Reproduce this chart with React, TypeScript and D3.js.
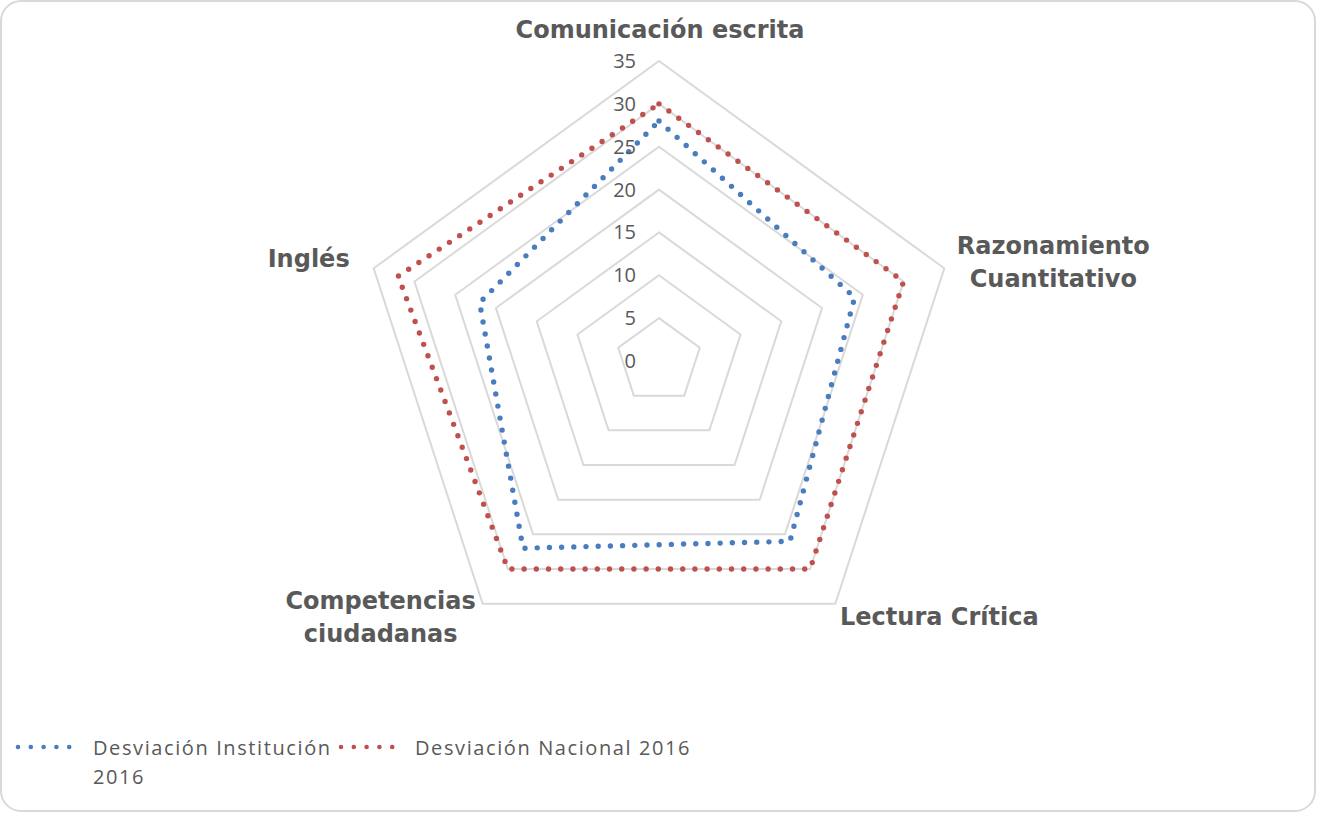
import React from "react";
import * as d3 from "d3";

const categories = [
  ["Comunicación escrita"],
  ["Razonamiento", "Cuantitativo"],
  ["Lectura Crítica"],
  ["Competencias", "ciudadanas"],
  ["Inglés"],
];
const institucion = [28, 24, 26, 27, 22];
const nacional = [30, 30, 30, 30, 32];
const ticks = [0, 5, 10, 15, 20, 25, 30, 35];
const seriesNames = ["Desviación Institución 2016", "Desviación Nacional 2016"];

const W = 1317;
const H = 813;
const cx = 659;
const cy = 361;
const R = 300;
const BLUE = "#4A7DBE";
const RED = "#C0504D";
const GRID = "#d9d9d9";
const TEXT = "#595959";

const r = d3.scaleLinear().domain([0, 35]).range([0, R]);
const angle = (i: number) => (i * 2 * Math.PI) / categories.length;

const radial = d3
  .lineRadial<number>()
  .angle((_, i) => angle(i))
  .radius((d) => r(d))
  .curve(d3.curveLinearClosed);

const vertex = (i: number, v: number) => [
  cx + r(v) * Math.sin(angle(i)),
  cy - r(v) * Math.cos(angle(i)),
];

// label placement relative to the outer vertex: [dx, dy of first baseline, anchor]
const labelPlace: [number, number, string][] = [
  [1, -23, "middle"],
  [109, -14, "middle"],
  [104, 21, "middle"],
  [-102, 5, "middle"],
  [-24, -1, "end"],
];

export default function App() {
  const catFont = "'DejaVu Sans', sans-serif";
  const numFont = "'Open Sans', sans-serif";
  return (
    <svg
      width={W}
      height={H}
      style={{ position: "absolute", left: 0, top: 0, background: "#fff" }}
    >
      <rect x={1} y={1} width={W - 3} height={H - 3} rx={20} ry={20} fill="#fff" stroke={GRID} strokeWidth={2} />
      <g transform={`translate(${cx},${cy})`}>
        {ticks
          .filter((t) => t > 0)
          .map((t) => (
            <path
              key={t}
              d={radial(categories.map(() => t)) || ""}
              fill="none"
              stroke={GRID}
              strokeWidth={2}
            />
          ))}
        <path
          d={radial(institucion) || ""}
          fill="none"
          stroke={BLUE}
          strokeWidth={5.4}
          strokeLinecap="round"
          strokeDasharray="0 12.2"
        />
        <path
          d={radial(nacional) || ""}
          fill="none"
          stroke={RED}
          strokeWidth={5.4}
          strokeLinecap="round"
          strokeDasharray="0 12.2"
        />
      </g>
      {ticks.map((t) => (
        <text
          key={t}
          x={cx - 23}
          y={cy - r(t) + 7}
          textAnchor="end"
          fontFamily={numFont}
          fontSize={20}
          fill={TEXT}
        >
          {t}
        </text>
      ))}
      {categories.map((lines, i) => {
        const [vx, vy] = vertex(i, 35);
        const [dx, dy, anchor] = labelPlace[i];
        return (
          <text
            key={i}
            x={vx + dx}
            y={vy + dy}
            textAnchor={anchor as any}
            fontFamily={catFont}
            fontWeight="bold"
            fontSize={24}
            fill={TEXT}
          >
            {lines.map((l, j) => (
              <tspan key={j} x={vx + dx} dy={j === 0 ? 0 : 33}>
                {l}
              </tspan>
            ))}
          </text>
        );
      })}
      <g fontFamily={numFont} fontSize={20} fill={TEXT} letterSpacing={1.6}>
        <line x1={18} x2={82} y1={747} y2={747} stroke={BLUE} strokeWidth={4.6} strokeLinecap="round" strokeDasharray="0 12.8" />
        <text x={93} y={755}>Desviación Institución</text>
        <text x={93} y={784}>2016</text>
        <line x1={341} x2={405} y1={747} y2={747} stroke={RED} strokeWidth={4.6} strokeLinecap="round" strokeDasharray="0 12.8" />
        <text x={415} y={755}>{seriesNames[1]}</text>
      </g>
    </svg>
  );
}
